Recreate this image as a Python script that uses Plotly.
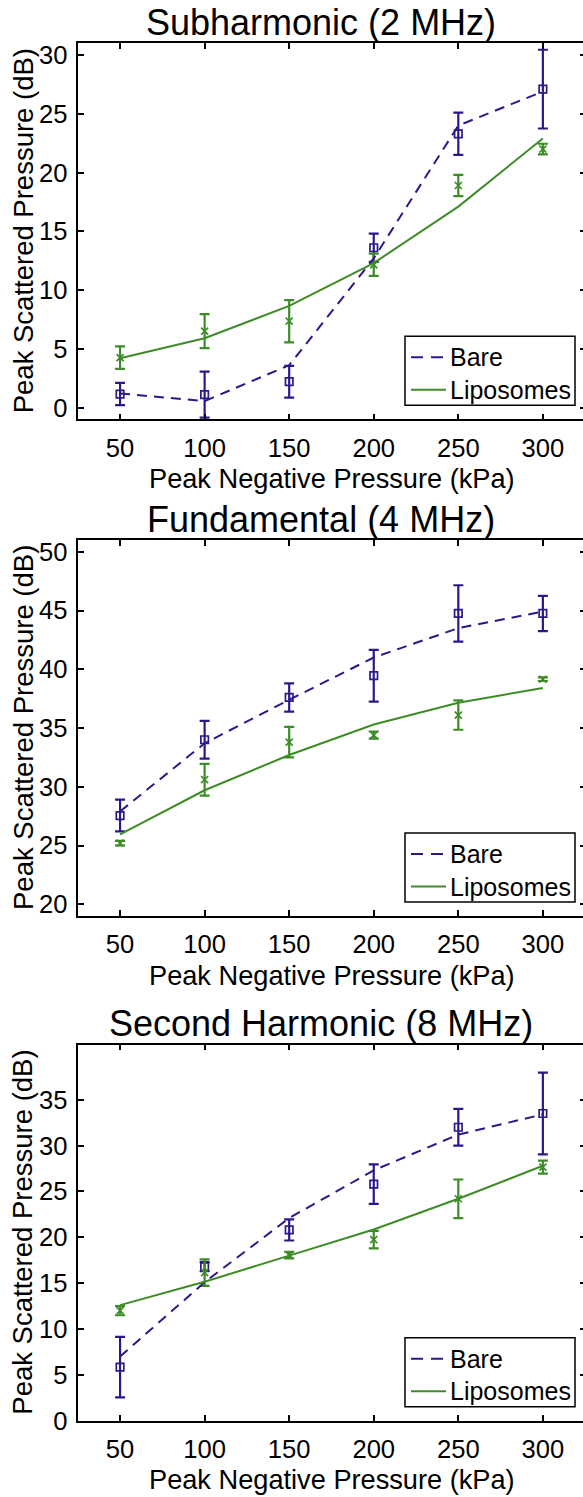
import plotly.graph_objects as go

# ---------------- data ----------------
pressure_kpa = [50, 100, 150, 200, 250, 300]

titles = ["Subharmonic (2 MHz)", "Fundamental (4 MHz)", "Second Harmonic (8 MHz)"]
series_names = ["Bare", "Liposomes"]

# Subharmonic
sub_bare_mean = [1.15, 1.1, 2.2, 13.6, 23.3, 27.1]
sub_bare_err = [0.95, 1.95, 1.35, 1.2, 1.8, 3.35]
sub_lipo_mean = [4.25, 6.5, 7.35, 12.15, 18.9, 22.0]
sub_lipo_err = [0.95, 1.45, 1.8, 0.95, 0.9, 0.45]
sub_bare_fit = [1.2, 0.55, 3.6, 12.7, 24.0, 26.9]
sub_lipo_fit = [4.2, 5.9, 8.65, 12.3, 17.1, 22.9]

# Fundamental
fun_bare_mean = [27.55, 34.0, 37.6, 39.45, 44.75, 44.75]
fun_bare_err = [1.35, 1.6, 1.2, 2.2, 2.4, 1.5]
fun_lipo_mean = [25.2, 30.6, 33.8, 34.4, 36.1, 39.15]
fun_lipo_err = [0.2, 1.35, 1.3, 0.3, 1.25, 0.15]
fun_bare_fit = [27.9, 33.7, 37.4, 41.0, 43.5, 44.9]
fun_lipo_fit = [25.95, 29.7, 32.7, 35.3, 37.15, 38.4]

# Second harmonic
sec_bare_mean = [5.85, 16.8, 20.8, 25.8, 32.0, 33.5]
sec_bare_err = [3.3, 0.5, 1.15, 2.15, 2.0, 4.45]
sec_lipo_mean = [12.0, 16.15, 18.05, 19.75, 24.2, 27.65]
sec_lipo_err = [0.5, 1.45, 0.35, 0.95, 2.1, 0.7]
sec_bare_fit = [7.0, 15.1, 22.1, 27.3, 31.2, 33.4]
sec_lipo_fit = [12.6, 15.15, 18.0, 20.85, 24.2, 27.8]

y_ranges = [[-1, 31], [19, 51], [0, 41]]
y_ticks = [[0, 5, 10, 15, 20, 25, 30], [20, 25, 30, 35, 40, 45, 50], [0, 5, 10, 15, 20, 25, 30, 35]]

panels = [
    (sub_bare_mean, sub_bare_err, sub_lipo_mean, sub_lipo_err, sub_bare_fit, sub_lipo_fit),
    (fun_bare_mean, fun_bare_err, fun_lipo_mean, fun_lipo_err, fun_bare_fit, fun_lipo_fit),
    (sec_bare_mean, sec_bare_err, sec_lipo_mean, sec_lipo_err, sec_bare_fit, sec_lipo_fit),
]

# ---------------- layout geometry (px) ----------------
W, H = 586, 1497
LEFT = 78.3
tops = [43.3, 540.0, 1044.7]
bottoms = [419.3, 916.0, 1420.7]

BLUE = "rgb(44,24,138)"
GREEN = "rgb(62,140,40)"
FONT = "Liberation Sans, Arial, Helvetica, sans-serif"
DASH = "10px,7px"


def px(xp):
    return xp / W


def py(yp):
    return 1 - yp / H


fig = go.Figure()
layout = dict(
    width=W, height=H,
    margin=dict(l=0, r=0, t=0, b=0, autoexpand=False),
    paper_bgcolor="white", plot_bgcolor="white",
    font=dict(family=FONT, color="black", size=25),
    showlegend=False,
)
annotations = []
shapes = []

for i, (bm, be, lm, le, bf, lf) in enumerate(panels):
    k = i + 1
    xa = "x" if k == 1 else f"x{k}"
    ya = "y" if k == 1 else f"y{k}"

    fig.add_trace(go.Scatter(
        x=pressure_kpa, y=bm, mode="markers", xaxis=xa, yaxis=ya, showlegend=False,
        marker=dict(symbol="square-open", size=7.5, color=BLUE, line=dict(width=1.7, color=BLUE)),
        error_y=dict(type="data", array=be, visible=True, color=BLUE, thickness=2.2, width=5),
    ))
    fig.add_trace(go.Scatter(
        x=pressure_kpa, y=lm, mode="markers", xaxis=xa, yaxis=ya, showlegend=False,
        marker=dict(symbol="x-thin", size=7, color=GREEN, line=dict(width=1.7, color=GREEN)),
        error_y=dict(type="data", array=le, visible=True, color=GREEN, thickness=2.2, width=5),
    ))
    fig.add_trace(go.Scatter(
        x=pressure_kpa, y=bf, mode="lines", name=series_names[0], xaxis=xa, yaxis=ya,
        line=dict(color=BLUE, width=2, dash=DASH),
    ))
    fig.add_trace(go.Scatter(
        x=pressure_kpa, y=lf, mode="lines", name=series_names[1], xaxis=xa, yaxis=ya,
        line=dict(color=GREEN, width=2),
    ))

    dom_y = [py(bottoms[i]), py(tops[i])]
    axis_common = dict(
        showline=True, linecolor="black", linewidth=1.5, mirror="ticks",
        ticks="inside", ticklen=6, tickwidth=1.5, tickcolor="black",
        showgrid=False, zeroline=False, automargin=False,
        tickfont=dict(size=25.6, family=FONT, color="black"),
    )
    layout["xaxis" if k == 1 else f"xaxis{k}"] = dict(
        axis_common, domain=[LEFT / W, 1], range=[25.3, 325.5],
        tickvals=pressure_kpa, anchor=ya, ticklabelstandoff=5,
    )
    layout["yaxis" if k == 1 else f"yaxis{k}"] = dict(
        axis_common, domain=dom_y, range=y_ranges[i],
        tickvals=y_ticks[i], anchor=xa, ticklabelstandoff=4,
    )

    # subplot title
    annotations.append(dict(
        text=titles[i], x=px(321), y=py(tops[i] - 21), xref="paper", yref="paper",
        xanchor="center", yanchor="middle", showarrow=False,
        font=dict(size=36, family=FONT, color="black"),
    ))
    # x axis title
    annotations.append(dict(
        text="Peak Negative Pressure (kPa)", x=px(332), y=py(bottoms[i] + 59),
        xref="paper", yref="paper", xanchor="center", yanchor="middle", showarrow=False,
        font=dict(size=27.2, family=FONT, color="black"),
    ))
    # y axis title
    annotations.append(dict(
        text="Peak Scattered Pressure (dB)", x=px(23), y=py((tops[i] + bottoms[i]) / 2),
        xref="paper", yref="paper", xanchor="center", yanchor="middle", showarrow=False,
        textangle=-90, font=dict(size=27.5, family=FONT, color="black"),
    ))

    # legend box (drawn in paper coordinates)
    lb_bot = bottoms[i] - 14
    lb_top = lb_bot - 69
    shapes.append(dict(
        type="rect", xref="paper", yref="paper",
        x0=px(405), x1=px(575), y0=py(lb_bot), y1=py(lb_top),
        line=dict(color="black", width=1.5), fillcolor="white", layer="above",
    ))
    rows = [lb_top + 21, lb_top + 53.5]
    for name, color, dash, yrow in [(series_names[0], BLUE, "12px,8px", rows[0]),
                                    (series_names[1], GREEN, "solid", rows[1])]:
        shapes.append(dict(
            type="line", xref="paper", yref="paper",
            x0=px(411), x1=px(446), y0=py(yrow), y1=py(yrow),
            line=dict(color=color, width=2, dash=dash), layer="above",
        ))
        annotations.append(dict(
            text=name, x=px(448), y=py(yrow), xref="paper", yref="paper",
            xanchor="left", yanchor="middle", showarrow=False,
            font=dict(size=25, family=FONT, color="black"),
        ))

layout["annotations"] = annotations
layout["shapes"] = shapes
fig.update_layout(**layout)

fig.write_html(
    "out.html",
    config={"displayModeBar": False},
    post_script="document.body.style.margin='0';document.body.style.overflow='hidden';"
                "document.documentElement.style.overflow='hidden';",
)
